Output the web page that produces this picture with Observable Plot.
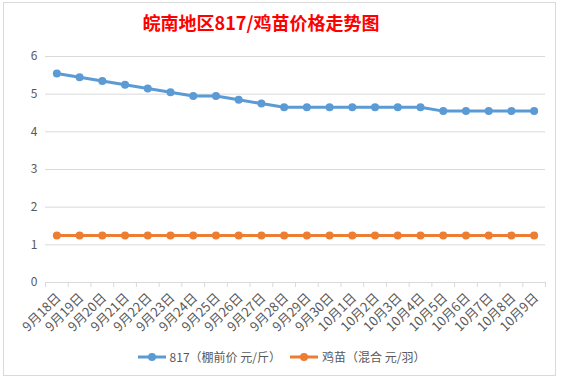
<!DOCTYPE html>
<html>
<head>
<meta charset="utf-8">
<script src="https://cdn.jsdelivr.net/npm/d3@7"></script>
<script src="https://cdn.jsdelivr.net/npm/@observablehq/plot@0.6"></script>
<style>
  body { margin: 0; background: #fff; }
  #wrap { position: relative; width: 562px; height: 381px; overflow: hidden; background: #fff; font-family: "Noto Sans CJK SC", "Noto Sans", sans-serif; }
  #frame { position: absolute; left: 3px; top: 2px; width: 553px; height: 374px; border: 1px solid #d9d9d9; box-sizing: border-box; }
  #title { position: absolute; left: 111px; width: 300px; top: 8px; text-align: center; color: #ff0000; font-weight: bold; font-size: 18px; line-height: 28px; }
  #chart { position: absolute; left: 0; top: 40px; }
  #legend { position: absolute; top: 348px; left: 0; width: 562px; display: flex; justify-content: center; padding-left: 0; font-size: 12px; color: #595959; line-height: 18px; }
  .item { display: flex; align-items: center; margin: 0 4px; }
  .item svg { margin-right: 3px; }
</style>
</head>
<body>
<div id="wrap">
  <div id="frame"></div>
  <div id="title">皖南地区817/鸡苗价格走势图</div>
  <div id="chart"></div>
  <div id="legend"></div>
</div>
<script>
const dates = ["9月18日","9月19日","9月20日","9月21日","9月22日","9月23日","9月24日","9月25日","9月26日","9月27日","9月28日","9月29日","9月30日","10月1日","10月2日","10月3日","10月4日","10月5日","10月6日","10月7日","10月8日","10月9日"];
const price817 = [5.55,5.45,5.35,5.25,5.15,5.05,4.95,4.95,4.85,4.75,4.65,4.65,4.65,4.65,4.65,4.65,4.65,4.55,4.55,4.55,4.55,4.55];
const priceChick = [1.25,1.25,1.25,1.25,1.25,1.25,1.25,1.25,1.25,1.25,1.25,1.25,1.25,1.25,1.25,1.25,1.25,1.25,1.25,1.25,1.25,1.25];
const yTicks = [0,1,2,3,4,5,6];
const seriesNames = ["817（棚前价 元/斤）","鸡苗（混合 元/羽）"];
const colors = ["#5B9BD5","#ED7D31"];

const idx = dates.map((d, i) => i);
const data = dates.map((d, i) => ({i, date: d, a: price817[i], b: priceChick[i]}));
const bounds = idx.concat([dates.length]).map(i => i - 0.5);

const chart = Plot.plot({
  width: 562, height: 300,
  marginTop: 16, marginBottom: 58, marginLeft: 45, marginRight: 17,
  x: {type: "linear", domain: [-0.5, dates.length - 0.5]},
  y: {domain: [0, 6]},
  style: {fontFamily: "'Noto Sans CJK SC', 'Noto Sans', sans-serif", fontSize: "12px", color: "#595959", background: "transparent"},
  marks: [
    Plot.ruleY(yTicks.slice(1), {stroke: "#d9d9d9", strokeOpacity: 1}),
    Plot.ruleY([0], {stroke: "#d9d9d9", strokeOpacity: 1}),
    Plot.axisY({ticks: yTicks, tickFormat: d => String(d), tickSize: 0, tickPadding: 8, label: null, fill: "#595959", fontSize: 12}),
    Plot.axisX({ticks: bounds, tickSize: 5, tickFormat: () => "", label: null, stroke: "#d9d9d9", strokeOpacity: 1}),
    Plot.axisX({ticks: idx, tickFormat: i => dates[i], tickSize: 0, tickPadding: 13, tickRotate: -45, label: null, fill: "#595959", fontSize: 13, dx: 2}),
    Plot.line(data, {x: "i", y: "a", stroke: colors[0], strokeWidth: 3}),
    Plot.dot(data, {x: "i", y: "a", fill: colors[0], r: 4}),
    Plot.line(data, {x: "i", y: "b", stroke: colors[1], strokeWidth: 3}),
    Plot.dot(data, {x: "i", y: "b", fill: colors[1], r: 4})
  ]
});
document.getElementById("chart").appendChild(chart);

const legend = document.getElementById("legend");
seriesNames.forEach((name, k) => {
  const item = document.createElement("div");
  item.className = "item";
  item.innerHTML = `<svg width="30" height="10"><line x1="1" x2="29" y1="5" y2="5" stroke="${colors[k]}" stroke-width="3"/><circle cx="15" cy="5" r="4" fill="${colors[k]}"/></svg><span>${name}</span>`;
  legend.appendChild(item);
});
</script>
</body>
</html>
